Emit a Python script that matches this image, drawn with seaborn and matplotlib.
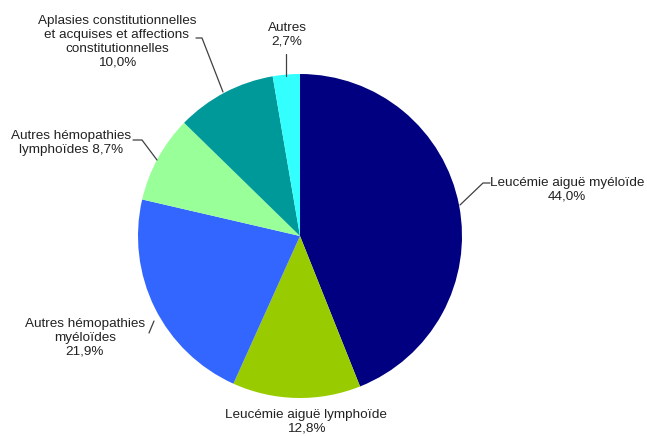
import matplotlib
matplotlib.use("Agg")
import matplotlib.pyplot as plt
import seaborn as sns

categories = [
    "Leucémie aiguë myéloïde",
    "Leucémie aiguë lymphoïde",
    "Autres hémopathies\nmyéloïdes",
    "Autres hémopathies\nlymphoïdes",
    "Aplasies constitutionnelles\net acquises et affections\nconstitutionnelles",
    "Autres",
]
values = [44.0, 12.8, 21.9, 8.7, 10.0, 2.7]
colors = ["#000080", "#99CC00", "#3366FF", "#99FF99", "#009999", "#33FFFF"]

sns.set_theme(style="white")
plt.rcParams['font.family'] = ['Liberation Sans', 'DejaVu Sans']

W, H = 647, 436
fig = plt.figure(figsize=(W / 100, H / 100), dpi=100)
ax = fig.add_axes([0, 0, 1, 1])

cx, cy, r = 300, 236, 162
ax.pie(values, colors=colors, startangle=90, counterclock=False,
       center=(cx, H - cy), radius=r, wedgeprops=dict(linewidth=0))
ax.set_xlim(0, W)
ax.set_ylim(0, H)
ax.set_aspect("equal")
ax.axis("off")

def fmt(v):
    return f"{v:.1f}".replace(".", ",") + "%"

# label text positions (pixel coords, y from top) and leader lines
layout = [
    dict(xy=(567, 190), text=f"{categories[0]}\n{fmt(values[0])}",
         line=[(490, 183), (483, 183), (460, 205)]),
    dict(xy=(306, 422), text=f"{categories[1]}\n{fmt(values[1])}", line=None),
    dict(xy=(85, 338), text=f"{categories[2]}\n{fmt(values[2])}",
         line=[(149, 333), (154, 321)]),
    dict(xy=(71, 143), text=categories[3] + " " + fmt(values[3]),
         line=[(133, 140), (142, 140), (157, 160)]),
    dict(xy=(117, 42), text=f"{categories[4]}\n{fmt(values[4])}",
         line=[(196, 38), (202, 38), (223, 92)]),
    dict(xy=(287, 35), text=f"{categories[5]}\n{fmt(values[5])}",
         line=[(286, 54), (286, 76)]),
]

for item in layout:
    x, y = item["xy"]
    ax.text(x, H - y, item["text"], ha="center", va="center", fontsize=9.7,
            color="#222222", linespacing=1.2)
    if item["line"]:
        xs = [p[0] for p in item["line"]]
        ys = [H - p[1] for p in item["line"]]
        ax.plot(xs, ys, color="#404040", linewidth=0.9)

fig.savefig("out.png", dpi=100)
